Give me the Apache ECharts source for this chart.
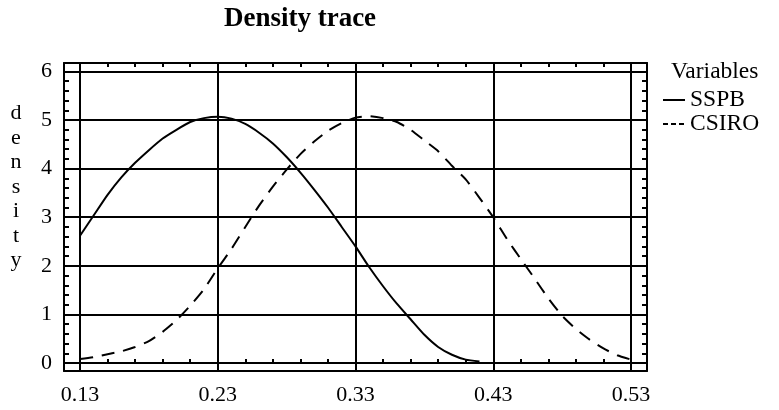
<!DOCTYPE html>
<html>
<head>
<meta charset="utf-8">
<script src="https://cdn.jsdelivr.net/npm/echarts@6/dist/echarts.min.js"></script>
<style>html,body{margin:0;padding:0;background:#fff;}#c{width:779px;height:410px;}</style>
</head>
<body>
<div id="c"></div>
<script>
const xValues = [0.13,0.14,0.15,0.16,0.17,0.18,0.19,0.20,0.21,0.22,0.23,0.24,0.25,0.26,0.27,0.28,0.29,0.30,0.31,0.32,0.33,0.34,0.35,0.36,0.37,0.38,0.39,0.40,0.41,0.42,0.43,0.44,0.45,0.46,0.47,0.48,0.49,0.50,0.51,0.52,0.53];
const sspb = [2.62,3.04,3.46,3.82,4.12,4.38,4.62,4.8,4.96,5.04,5.07,5.03,4.92,4.74,4.52,4.24,3.92,3.57,3.2,2.8,2.4,1.97,1.58,1.22,0.9,0.58,0.33,0.17,0.07,0.03];
const csiro = [0.08,0.12,0.18,0.24,0.33,0.45,0.64,0.88,1.18,1.52,1.95,2.35,2.8,3.24,3.63,3.98,4.3,4.56,4.78,4.94,5.05,5.08,5.04,4.96,4.8,4.58,4.36,4.06,3.78,3.4,3.0,2.55,2.14,1.74,1.33,0.97,0.7,0.48,0.3,0.16,0.07];
const xTickLabels = [0.13,0.23,0.33,0.43,0.53];
const xMinorTicks = [0.15,0.17,0.19,0.21,0.25,0.27,0.29,0.31,0.35,0.37,0.39,0.41,0.45,0.47,0.49,0.51];
const yTickLabels = [0,1,2,3,4,5,6];
const yMinorTicks = [0.2,0.4,0.6,0.8,1.2,1.4,1.6,1.8,2.2,2.4,2.6,2.8,3.2,3.4,3.6,3.8,4.2,4.4,4.6,4.8,5.2,5.4,5.6,5.8];
const seriesNames = ['SSPB','CSIRO'];

const FONT = 'Liberation Serif';
const X_MIN = 0.11838, X_MAX = 0.54161;
const Y_MIN = -0.1647, Y_MAX = 6.1749;
const lineBlack = {color:'#000', width:2};

function pairs(vals){ return vals.map((v,i)=>[xValues[i], v]); }

function xAxisBase(extra){
  return Object.assign({
    type:'value', gridIndex:0, min:X_MIN, max:X_MAX,
    axisLine:{show:false}, axisLabel:{show:false}, splitLine:{show:false},
    axisTick:{show:false}
  }, extra);
}
function yAxisBase(extra){
  return Object.assign({
    type:'value', gridIndex:0, min:Y_MIN, max:Y_MAX,
    axisLine:{show:false}, axisLabel:{show:false}, splitLine:{show:false},
    axisTick:{show:false}
  }, extra);
}

const chart = echarts.init(document.getElementById('c'), null, {renderer:'canvas'});
chart.setOption({
  animation:false,
  backgroundColor:'#fff',
  title:[
    {text:'Density trace', left:300, textAlign:'center', top:6, padding:0,
     textStyle:{fontFamily:FONT, fontSize:27, fontWeight:'bold', color:'#000'}},
    {text:'Variables', left:671, top:60, padding:0,
     textStyle:{fontFamily:FONT, fontSize:23.5, fontWeight:'normal', color:'#000', lineHeight:23}},
    {text:'d\ne\nn\ns\ni\nt\ny', left:16, textAlign:'center', top:101, padding:0,
     textStyle:{fontFamily:FONT, fontSize:22, fontWeight:'normal', color:'#000', lineHeight:24.5}}
  ],
  legend:{
    orient:'vertical', left:662, top:88, padding:0, itemGap:0,
    itemWidth:22, itemHeight:10,
    itemStyle:{color:'rgba(0,0,0,0)', borderColor:'rgba(0,0,0,0)', borderWidth:0},
    data:[{name:seriesNames[0]}, {name:seriesNames[1], lineStyle:{type:[5,3]}}],
    textStyle:{fontFamily:FONT, fontSize:23.5, color:'#000', lineHeight:20}
  },
  grid:{left:64, right:132, top:63, bottom:39, containLabel:false},
  xAxis:[
    xAxisBase({position:'bottom',
      axisLine:{show:true, onZero:false, lineStyle:lineBlack},
      axisTick:{show:true, inside:true, length:4, customValues:xTickLabels, lineStyle:lineBlack},
      splitLine:{show:true, lineStyle:lineBlack},
      axisLabel:{show:true, customValues:xTickLabels, margin:13, fontFamily:FONT, fontSize:22, color:'#000',
        formatter:v=>v.toFixed(2)}
    }),
    xAxisBase({position:'bottom',
      axisTick:{show:true, inside:true, length:4, customValues:xMinorTicks, lineStyle:lineBlack}}),
    xAxisBase({position:'top',
      axisLine:{show:true, onZero:false, lineStyle:lineBlack},
      axisTick:{show:true, inside:true, length:4, customValues:xMinorTicks, lineStyle:lineBlack}})
  ],
  yAxis:[
    yAxisBase({position:'left',
      axisLine:{show:true, onZero:false, lineStyle:lineBlack},
      axisTick:{show:true, inside:true, length:4, customValues:yTickLabels, lineStyle:lineBlack},
      splitLine:{show:true, lineStyle:lineBlack},
      axisLabel:{show:true, customValues:yTickLabels, margin:12, fontFamily:FONT, fontSize:22, color:'#000',
        padding:[0,0,8,0]}
    }),
    yAxisBase({position:'left',
      axisTick:{show:true, inside:true, length:5, customValues:yMinorTicks, lineStyle:lineBlack}}),
    yAxisBase({position:'right',
      axisLine:{show:true, onZero:false, lineStyle:lineBlack},
      axisTick:{show:true, inside:true, length:5, customValues:yMinorTicks, lineStyle:lineBlack}})
  ],
  series:[
    {name:seriesNames[0], type:'line', xAxisIndex:0, yAxisIndex:0, data:pairs(sspb),
     symbol:'none', smooth:0.2, color:'#000', lineStyle:{color:'#000', width:2, type:'solid'}},
    {name:seriesNames[1], type:'line', xAxisIndex:0, yAxisIndex:0, data:pairs(csiro),
     symbol:'none', smooth:0.2, color:'#000', lineStyle:{color:'#000', width:2, type:[13,9]}}
  ]
});
</script>
</body>
</html>
